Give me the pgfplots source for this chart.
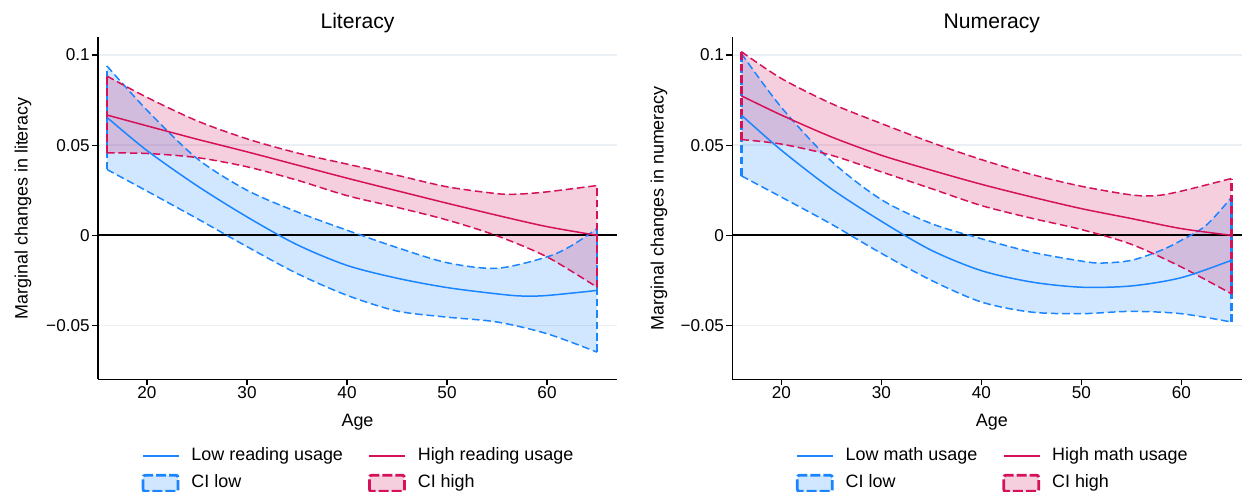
\documentclass[border=0pt]{standalone}
\usepackage{fontspec}
\setmainfont{Liberation Sans}
\usepackage{pgfplots}
\usepackage{pgfplotstable}
\pgfplotsset{compat=1.18}
\usepgfplotslibrary{fillbetween}
\definecolor{stcA}{HTML}{1A85FF}
\definecolor{stcB}{HTML}{D41159}
\definecolor{gridc}{HTML}{EAF0F3}
\definecolor{fillA}{HTML}{D1E7FF}
\definecolor{fillB}{HTML}{F6CFDE}
\definecolor{legA}{RGB}{26,133,255}
\definecolor{legB}{RGB}{212,17,89}

% Literacy
\pgfplotstableread{
x y
16 0.0654
20 0.0470
25 0.0275
30 0.0102
35 -0.0052
40 -0.0167
45 -0.0238
50 -0.0290
55 -0.0325
57.5 -0.0337
60 -0.0334
65 -0.0306
}\LitLowMid
\pgfplotstableread{
x y
16 0.0939
20 0.0694
25 0.0426
30 0.0250
35 0.0130
40 0.0028
45 -0.0068
50 -0.0152
55 -0.0183
60 -0.0120
62.5 -0.0056
65 0.0037
}\LitLowHi
\pgfplotstableread{
x y
16 0.0365
20 0.0245
25 0.0093
30 -0.0063
35 -0.0212
40 -0.0333
45 -0.0420
50 -0.0454
55 -0.0481
60 -0.0546
65 -0.0648
}\LitLowLo
\pgfplotstableread{
x y
16 0.0667
20 0.0607
25 0.0533
30 0.0463
35 0.0390
40 0.0317
45 0.0247
50 0.0178
55 0.0111
60 0.0048
65 0.0000
}\LitHighMid
\pgfplotstableread{
x y
16 0.0883
20 0.0765
25 0.0635
30 0.0535
35 0.0457
40 0.0395
45 0.0333
50 0.0269
55 0.0231
57 0.0228
60 0.0241
65 0.0276
}\LitHighHi
\pgfplotstableread{
x y
16 0.0457
20 0.0454
25 0.0431
30 0.0380
35 0.0306
40 0.0220
45 0.0155
50 0.0085
55 -0.0003
60 -0.0120
65 -0.0288
}\LitHighLo

% Numeracy
\pgfplotstableread{
x y
16 0.0667
20 0.0472
25 0.0258
30 0.0078
35 -0.0083
40 -0.0196
45 -0.0259
50 -0.0288
55 -0.0281
60 -0.0235
65 -0.0139
}\NumLowMid
\pgfplotstableread{
x y
16 0.1009
20 0.0710
25 0.0412
30 0.0198
35 0.0065
40 -0.0019
45 -0.0093
50 -0.0143
52 -0.0154
55 -0.0139
58 -0.0083
60 -0.0028
62.5 0.0056
65 0.0209
}\NumLowHi
\pgfplotstableread{
x y
16 0.0330
20 0.0212
25 0.0062
30 -0.0100
35 -0.0250
40 -0.0370
45 -0.0426
50 -0.0435
55 -0.0422
60 -0.0435
65 -0.0481
}\NumLowLo
\pgfplotstableread{
x y
16 0.0774
20 0.0667
25 0.0546
30 0.0444
35 0.0361
40 0.0283
45 0.0213
50 0.0148
55 0.0093
60 0.0037
65 0.0000
}\NumHighMid
\pgfplotstableread{
x y
16 0.1019
20 0.0870
25 0.0731
30 0.0620
35 0.0515
40 0.0420
45 0.0338
50 0.0272
55 0.0224
57.5 0.0220
60 0.0245
65 0.0315
}\NumHighHi
\pgfplotstableread{
x y
16 0.0531
20 0.0506
25 0.0444
30 0.0352
35 0.0259
40 0.0165
45 0.0095
50 0.0032
55 -0.0050
60 -0.0176
65 -0.0324
}\NumHighLo

\pgfplotsset{
  panel/.style={
    scale only axis, width=259.5bp, height=171.25bp,
    xmin=15.1, xmax=67, ymin=-0.08, ymax=0.11,
    xtick={20,30,40,50,60},
    ytick={-0.05,0,0.05,0.1}, yticklabels={−0.05,0,0.05,0.1},
    axis x line*=bottom, axis y line*=left,
    axis line style={black, line width=0.65bp},
    tick align=outside, major tick length=3bp,
    tick style={black, line width=0.65bp},
    ymajorgrids, major grid style={gridc, line width=0.8bp},
    /pgf/number format/assume math mode=true,
    tick label style={font=\fontsize{8.6}{10.3}\selectfont, inner sep=0pt},
    xticklabel style={anchor=north, yshift=-0.4bp},
    yticklabel style={anchor=east, xshift=-1bp},
    every axis title/.style={font=\fontsize{10.6}{12.7}\selectfont, at={(0.5,1)}, anchor=base, yshift=4.35bp, inner sep=0pt},
    xlabel={Age},
    label style={font=\fontsize{9}{10.8}\selectfont},
    xlabel style={at={(axis description cs:0.5,0)}, anchor=base, yshift=-23.5bp, inner sep=0pt},
    legend columns=2,
    legend cell align=left,
    legend style={draw=none, fill=none, font=\fontsize{9}{10.8}\selectfont,
      at={(0.5,0)}, anchor=north, yshift=-33.5bp, inner sep=0pt, row sep=5bp,
      nodes={inner sep=0pt, text height=6.6bp, text depth=1.9bp},
      /tikz/every even column/.append style={column sep=12.5bp},
      /tikz/every odd column/.append style={column sep=6bp}},
  },
  cil/.style={line width=0.75bp, dash pattern=on 3.8bp off 1.9bp, smooth},
  cie/.style={line width=1.4bp, dash pattern=on 3.8bp off 1.9bp},
  mid/.style={line width=0.75bp, smooth},
  limgA/.style={legend image code/.code={\draw[draw=legA, fill=legA, line width=0.1bp, solid] (0bp,-0.35bp) rectangle (17.5bp,0.35bp);}},
  limgB/.style={legend image code/.code={\draw[draw=legB, fill=legB, line width=0.1bp, solid] (0bp,-0.35bp) rectangle (17.5bp,0.35bp);}},
  aimgA/.style={legend image code/.code={\draw[draw=stcA, fill=fillA, line width=1.4bp, dash pattern=on 5bp off 1.5bp, rounded corners=1bp] (0bp,-4bp) rectangle (17.5bp,4bp);}},
  aimgB/.style={legend image code/.code={\draw[draw=stcB, fill=fillB, line width=1.4bp, dash pattern=on 5bp off 1.5bp, rounded corners=1bp] (0bp,-4bp) rectangle (17.5bp,4bp);}},
}

\begin{document}
\begin{tikzpicture}

% ---------- Literacy ----------
\begin{axis}[panel, at={(49bp,56.25bp)}, anchor=south west,
  title={Literacy}, ylabel={Marginal changes in literacy},
  ylabel style={at={(axis description cs:-0.1445,0.5)}, anchor=center, inner sep=0pt}]
\addplot[black, line width=1bp, forget plot] coordinates {(15.1,0) (67,0)};
% blue CI
\addplot[stcA, cil, name path=lbu, forget plot] table {\LitLowHi};
\addplot[stcA, cil, name path=lbl, forget plot] table {\LitLowLo};
\addplot[fill=stcA, fill opacity=0.2, draw=none, forget plot] fill between[of=lbu and lbl];
\addplot[stcA, cie, forget plot] coordinates {(16,0.0365) (16,0.0939)};
\addplot[stcA, cie, forget plot] coordinates {(65,-0.0648) (65,0.0037)};
% red CI
\addplot[stcB, cil, name path=lru, forget plot] table {\LitHighHi};
\addplot[stcB, cil, name path=lrl, forget plot] table {\LitHighLo};
\addplot[fill=stcB, fill opacity=0.2, draw=none, forget plot] fill between[of=lru and lrl];
\addplot[stcB, cie, forget plot] coordinates {(16,0.0457) (16,0.0883)};
\addplot[stcB, cie, forget plot] coordinates {(65,-0.0288) (65,0.0276)};
% lines
\addplot[stcA, mid, forget plot] table {\LitLowMid};
\addplot[stcB, mid, forget plot] table {\LitHighMid};
% legend
\addlegendimage{area legend, limgA}
\addlegendentry{Low reading usage}
\addlegendimage{area legend, limgB}
\addlegendentry{High reading usage}
\addlegendimage{area legend, aimgA}
\addlegendentry{CI low}
\addlegendimage{area legend, aimgB}
\addlegendentry{CI high}
\end{axis}

% ---------- Numeracy ----------
\begin{axis}[panel, at={(366.15bp,56.25bp)}, anchor=south west,
  title={Numeracy}, ylabel={Marginal changes in numeracy},
  ylabel style={at={(axis description cs:-0.1412,0.5)}, anchor=center, inner sep=0pt}]
\addplot[black, line width=1bp, forget plot] coordinates {(15.1,0) (67,0)};
\addplot[stcA, cil, name path=nbu, forget plot] table {\NumLowHi};
\addplot[stcA, cil, name path=nbl, forget plot] table {\NumLowLo};
\addplot[fill=stcA, fill opacity=0.2, draw=none, forget plot] fill between[of=nbu and nbl];
\addplot[stcA, cie, forget plot] coordinates {(16,0.0330) (16,0.1009)};
\addplot[stcA, cie, forget plot] coordinates {(65,-0.0481) (65,0.0209)};
\addplot[stcB, cil, name path=nru, forget plot] table {\NumHighHi};
\addplot[stcB, cil, name path=nrl, forget plot] table {\NumHighLo};
\addplot[fill=stcB, fill opacity=0.2, draw=none, forget plot] fill between[of=nru and nrl];
\addplot[stcB, cie, forget plot] coordinates {(16,0.0531) (16,0.1019)};
\addplot[stcB, cie, forget plot] coordinates {(65,-0.0324) (65,0.0315)};
\addplot[stcA, mid, forget plot] table {\NumLowMid};
\addplot[stcB, mid, forget plot] table {\NumHighMid};
\addlegendimage{area legend, limgA}
\addlegendentry{Low math usage}
\addlegendimage{area legend, limgB}
\addlegendentry{High math usage}
\addlegendimage{area legend, aimgA}
\addlegendentry{CI low}
\addlegendimage{area legend, aimgB}
\addlegendentry{CI high}
\end{axis}

\pgfresetboundingbox
\useasboundingbox (0,0) rectangle (621bp,246bp);
\end{tikzpicture}
\end{document}
